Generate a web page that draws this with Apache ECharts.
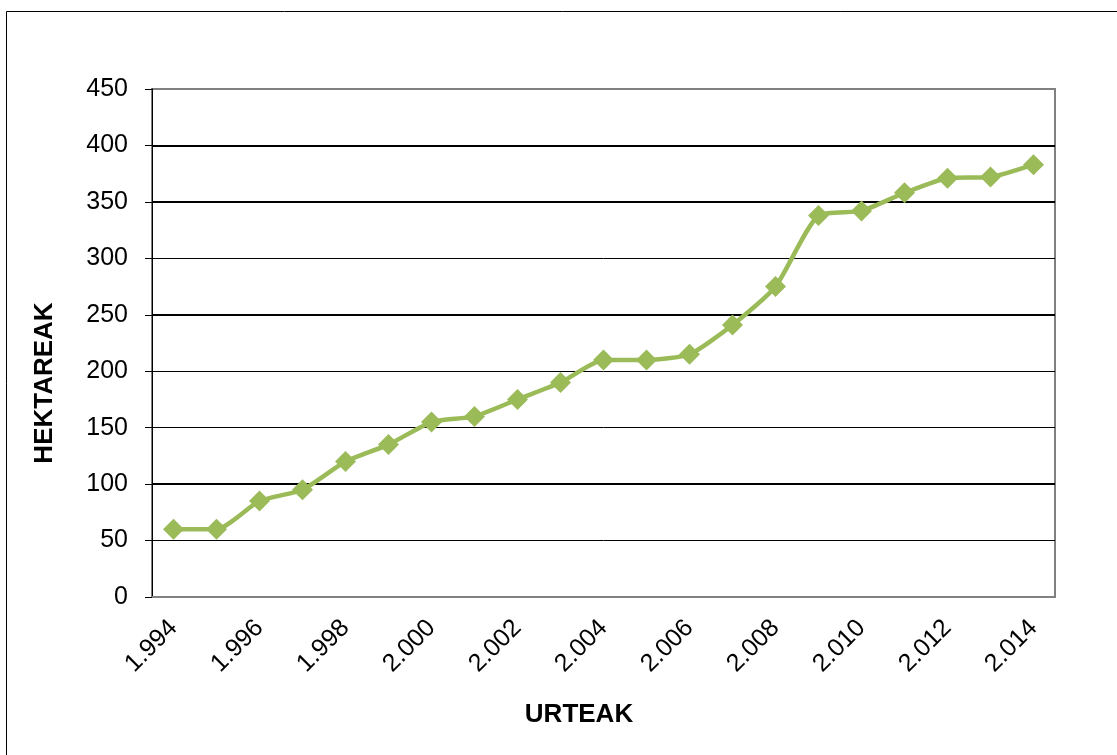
<html>
	<head>
		<meta charset="UTF-8">
		<title>Hektareak</title>
		<script src="https://cdn.jsdelivr.net/npm/echarts@6/dist/echarts.min.js"></script>
		<style>html,body,#container{width:100%;height:100%;margin:0;padding:0;background:#fff;}</style>
	</head>
	<body>
		<div id="container"></div>
		<script>
		// urteak (x ardatza) eta hektareak
		var years = ['1.994', '1.995', '1.996', '1.997', '1.998', '1.999', '2.000', '2.001', '2.002', '2.003', '2.004',
			'2.005', '2.006', '2.007', '2.008', '2.009', '2.010', '2.011', '2.012', '2.013', '2.014'];
		var hectares = [60, 60, 85, 95, 120, 135, 155, 160, 175, 190, 210,
			210, 215, 241, 275, 338, 342, 358, 371, 372, 383];
		var thickLines = [400, 350, 250, 100];

		var font = 'Liberation Sans, Arial, sans-serif';
		var chart = echarts.init(document.getElementById('container'));
		var option = {
			backgroundColor: '#fff',
			animation: false,
			graphic: [{
				type: 'rect',
				shape: { x: 6.5, y: 11.5, width: 1300, height: 1000 },
				style: { fill: 'none', stroke: '#000', lineWidth: 1 },
				silent: true
			}, {
				type: 'text',
				x: 45, y: 383,
				rotation: Math.PI / 2,
				style: {
					text: 'HEKTAREAK', fill: '#000', font: 'bold 26px ' + font,
					align: 'center', verticalAlign: 'middle'
				}
			}, {
				type: 'text',
				x: 579, y: 715,
				style: {
					text: 'URTEAK', fill: '#000', font: 'bold 26px ' + font,
					align: 'center', verticalAlign: 'middle'
				}
			}],
			grid: {
				left: 152, right: 62, top: 89, bottom: 158,
				show: true, borderColor: '#808080', borderWidth: 2,
				containLabel: false
			},
			xAxis: {
				type: 'category',
				data: years,
				boundaryGap: true,
				axisLine: { lineStyle: { color: '#808080', width: 2 } },
				axisTick: { interval: 0, length: 8, lineStyle: { color: '#000', width: 2 } },
				axisLabel: {
					interval: 1, rotate: 45, margin: 27,
					color: '#000', fontSize: 25, fontFamily: font
				}
			},
			yAxis: {
				type: 'value',
				min: 0, max: 450, interval: 50,
				axisLine: { show: true, lineStyle: { color: '#000', width: 1 } },
				axisTick: { show: true, length: 7, lineStyle: { color: '#000', width: 1 } },
				axisLabel: { margin: 24, color: '#000', fontSize: 25, fontFamily: font },
				splitLine: {
					lineStyle: {
						color: ['#000', '#000', '#000', '#000', '#000', '#000', '#000', '#000', '#000', '#808080'],
						width: 1
					}
				}
			},
			series: [{
				type: 'line',
				data: hectares,
				smooth: 0.2,
				symbol: 'path://M0,-1L1,0L0,1L-1,0Z',
				symbolSize: 21,
				lineStyle: { color: '#9BBB59', width: 4.5 },
				itemStyle: { color: '#9BBB59' },
				markLine: {
					silent: true,
					symbol: 'none',
					label: { show: false },
					lineStyle: { color: '#000', width: 2, type: 'solid' },
					data: thickLines.map(function (v) { return { yAxis: v }; }),
					z: 1
				}
			}]
		};
		chart.setOption(option);
		</script>
	</body>
</html>
